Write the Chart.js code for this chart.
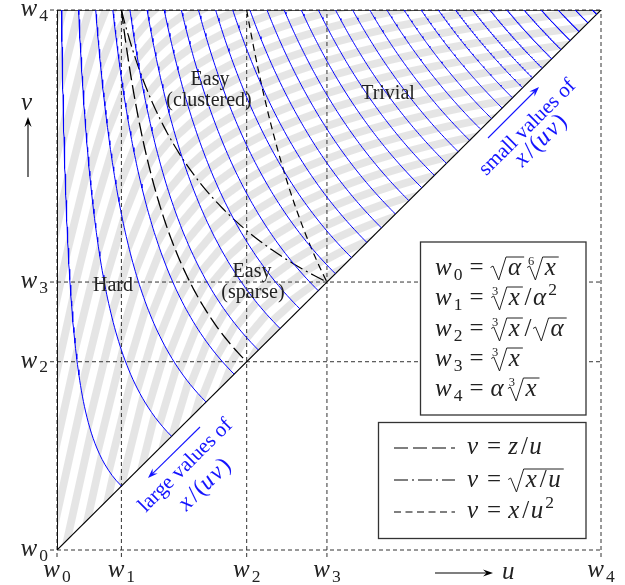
<!DOCTYPE html>
<html><head><meta charset="utf-8">
<script src="https://cdn.jsdelivr.net/npm/chart.js@4/dist/chart.umd.min.js"></script>
<style>html,body{margin:0;padding:0;background:#fff;}#wrap{width:625px;height:585px;position:relative;}</style>
</head><body><div id="wrap"><canvas id="c" width="625" height="585"></canvas></div>
<script>
// ---------- data ----------
const xTickNames = ['0','1','2','3','4'];            // subscripts of w on the u axis
const xTickValues = [0.015, 0.25, 0.7071, 1.0, 2.0]; // w0..w4
const yTickNames = ['0','2','3','4'];                // subscripts of w on the v axis
const yTickValues = [0.015, 0.7071, 1.0, 2.0];
const xParam = 1.0;        // x
const zParam = 0.5;        // z
const levelValues = [0.0625,0.1875,0.3125,0.4375,0.5625,0.6875,0.8125,0.9375,
  1.0625,1.1875,1.3125,1.4375,1.5625,1.6875,1.8125,1.9375,
  2.0625,2.1875,2.3125,2.4375,2.5625,2.6875,2.8125,2.9375,
  3.0625,3.1875,3.3125,3.4375,3.5625,3.6875,3.8125,3.9375]; // levels of u*v (blue curves)
const regionLabels = [['Easy',210,85],['(clustered)',209,106],['Trivial',388,99],['Hard',113,291],['Easy',252,277],['(sparse)',253,298]];

const W0 = xTickValues[0], W4 = xTickValues[4];

// ---------- curves ----------
function curveByV(fu, vStart, vEnd, n){ const pts=[]; for(let i=0;i<=n;i++){ const v=vStart+(vEnd-vStart)*i/n; pts.push({x:fu(v), y:v}); } return pts; }
const datasets = [];
levelValues.forEach(c=>{
  datasets.push({data:curveByV(v=>c/v, W4, Math.sqrt(c), 90), borderColor:'rgb(0,0,255)', borderWidth:1});
});
datasets.push({data:curveByV(v=>zParam/v, W4, Math.sqrt(zParam), 120), borderColor:'#000', borderWidth:1.3, borderDash:[14,5]});
datasets.push({data:curveByV(v=>xParam/(v*v), W4, Math.cbrt(xParam), 120), borderColor:'#000', borderWidth:1.2, borderDash:[14,4,2,4]});
datasets.push({data:curveByV(v=>Math.sqrt(xParam/v), W4, Math.cbrt(xParam), 120), borderColor:'#000', borderWidth:1.2, borderDash:[7,4.5]});
datasets.push({data:[{x:W0,y:W0},{x:W4,y:W4}], borderColor:'#000', borderWidth:1.2});
datasets.push({data:[{x:W0,y:W0},{x:W0,y:W4}], borderColor:'#111', borderWidth:2});
datasets.push({data:[{x:W0,y:W4},{x:W4,y:W4}], borderColor:'#111', borderWidth:1.6});
datasets.forEach(d=>{d.showLine=true; d.pointRadius=0; d.fill=false; d.tension=0;});

// ---------- helpers ----------
const SERIF = '"Liberation Serif","Times New Roman",serif';
function fnt(s,it){ return (it?'italic ':'')+s+'px '+SERIF; }
function mathRun(ctx, toks, s, x, y, draw){
  let cx=x;
  for(const t of toks){
    if(t.sqrt){
      let pre=0, iw=0;
      if(t.idx){ ctx.font=fnt(s*0.5,false); iw=ctx.measureText(t.idx).width; pre=Math.max(0, iw-0.22*s); }
      const cw=mathRun(ctx,t.sqrt,s,0,0,false);
      const rx=cx+pre;
      if(draw){
        if(t.idx){ ctx.font=fnt(s*0.5,false); ctx.fillText(t.idx, rx+0.28*s-iw, y-0.4*s); }
        ctx.beginPath(); ctx.moveTo(rx,y-0.3*s); ctx.lineTo(rx+0.1*s,y-0.36*s); ctx.lineTo(rx+0.33*s,y+0.2*s);
        ctx.lineTo(rx+0.62*s,y-0.72*s); ctx.lineTo(rx+0.7*s+cw+0.04*s,y-0.72*s); ctx.stroke();
        mathRun(ctx,t.sqrt,s,rx+0.7*s,y,true);
      }
      cx=rx+0.7*s+cw+0.07*s;
    } else {
      let size=s, dy=0;
      if(t.sub){size=s*0.7; dy=0.18*s;}
      if(t.sup){size=s*0.7; dy=-0.42*s;}
      const pad=t.op?0.28*s:0;
      ctx.font=fnt(size,!!t.it);
      const w=ctx.measureText(t.t).width;
      if(draw) ctx.fillText(t.t, cx+pad+(t.pre||0)*s, y+dy);
      cx+=w+2*pad+(t.sp||0)*s+(t.pre||0)*s+(t.it&&!t.sub&&!t.sup?0.08*s:0);
    }
  }
  return cx-x;
}
function drawMath(ctx,toks,s,x,y,align,color){
  ctx.save(); ctx.fillStyle=color; ctx.strokeStyle=color; ctx.lineWidth=1; ctx.textAlign='left'; ctx.textBaseline='alphabetic';
  const w=mathRun(ctx,toks,s,0,0,false);
  let sx=x; if(align==='center') sx=x-w/2; else if(align==='right') sx=x-w;
  mathRun(ctx,toks,s,sx,y,true); ctx.restore();
}
function arrowHead(ctx,x,y,ang,len,wid){
  const c=Math.cos(ang), s=Math.sin(ang);
  ctx.beginPath(); ctx.moveTo(x,y);
  ctx.lineTo(x-len*c+wid*s, y-len*s-wid*c);
  ctx.lineTo(x-0.65*len*c, y-0.65*len*s);
  ctx.lineTo(x-len*c-wid*s, y-len*s+wid*c);
  ctx.closePath(); ctx.fill();
}
function arrow(ctx,x1,y1,x2,y2,color,lw){
  ctx.save(); ctx.strokeStyle=color; ctx.fillStyle=color; ctx.lineWidth=lw;
  const a=Math.atan2(y2-y1,x2-x1);
  ctx.beginPath(); ctx.moveTo(x1,y1); ctx.lineTo(x2-6*Math.cos(a),y2-6*Math.sin(a)); ctx.stroke();
  arrowHead(ctx,x2,y2,a,10,3.6); ctx.restore();
}
// hatch angle (degrees) of the grey pattern as a function of u*v
const angTable=[[0,78],[0.2,75],[0.35,70],[0.5,60],[0.65,48],[0.8,39],[1.0,31],[1.3,23],[1.8,16],[2.5,11],[4.0,6]];
function stripeAngle(c){
  if(c<=angTable[0][0]) return angTable[0][1];
  for(let i=1;i<angTable.length;i++){ if(c<=angTable[i][0]){ const a=angTable[i-1], b=angTable[i]; return a[1]+(b[1]-a[1])*(c-a[0])/(b[0]-a[0]); } }
  return angTable[angTable.length-1][1];
}

// ---------- plugin ----------
const deco = {
  id:'deco',
  beforeDatasetsDraw(chart){
    const ctx=chart.ctx, xs=chart.scales.x, ys=chart.scales.y;
    const X0=xs.getPixelForValue(W0), X4=xs.getPixelForValue(W4), Y0=ys.getPixelForValue(W0), Y4=ys.getPixelForValue(W4);
    const P=15.5, nS=levelValues.length+1;
    const nx=[], ny=[], b=[];
    for(let k=0;k<nS;k++){
      const lo = k===0 ? 0 : levelValues[k-1];
      const hi = k===levelValues.length ? W4*W4 : levelValues[k];
      const th=stripeAngle((lo+hi)/2)*Math.PI/180;
      nx.push(Math.sin(th)); ny.push(Math.cos(th));
      if(k===0) b.push(0);
      else {
        const c=levelValues[k-1], vm=(Math.sqrt(c)+W4)/2, um=c/vm;
        const mx=xs.getPixelForValue(um), my=ys.getPixelForValue(vm);
        b.push(b[k-1] + ((nx[k-1]-nx[k])*mx + (ny[k-1]-ny[k])*my)/P);
      }
    }
    const w=Math.ceil(X4-X0)+2, h=Math.ceil(Y0-Y4)+2;
    const off=document.createElement('canvas'); off.width=w; off.height=h;
    const octx=off.getContext('2d'); const img=octx.createImageData(w,h); const d=img.data;
    for(let j=0;j<h;j++){
      const py=Y4+j+0.5, v=ys.getValueForPixel(py);
      for(let i=0;i<w;i++){
        const px=X0+i+0.5, u=xs.getValueForPixel(px);
        if(u<W0-0.004 || v>W4+0.004 || v<u-0.004) continue;
        const c=u*v; let k=0; while(k<levelValues.length && c>=levelValues[k]) k++;
        const ph=(nx[k]*px+ny[k]*py)/P + b[k];
        let t=ph-0.25; t=t-Math.floor(t)-0.5;
        const cov=Math.max(0,Math.min(1,P/4-Math.abs(t)*P+0.5));
        if(cov<=0) continue;
        const idx=(j*w+i)*4; d[idx]=229; d[idx+1]=229; d[idx+2]=229; d[idx+3]=Math.round(cov*255);
      }
    }
    octx.putImageData(img,0,0);
    ctx.drawImage(off,X0,Y4);
    ctx.save(); ctx.setLineDash([4,3]); ctx.strokeStyle='#333'; ctx.lineWidth=1;
    const left=X0-7, bottom=Y0+7;
    yTickValues.forEach(v=>{ const y=ys.getPixelForValue(v); ctx.beginPath(); ctx.moveTo(left,y); ctx.lineTo(X4,y); ctx.stroke(); });
    xTickValues.forEach(u=>{ const x=xs.getPixelForValue(u); ctx.beginPath(); ctx.moveTo(x,bottom); ctx.lineTo(x,Y4); ctx.stroke(); });
    ctx.restore();
  },
  afterDatasetsDraw(chart){
    const ctx=chart.ctx, xs=chart.scales.x, ys=chart.scales.y;
    const X0=xs.getPixelForValue(W0), X4=xs.getPixelForValue(W4), Y0=ys.getPixelForValue(W0), Y4=ys.getPixelForValue(W4);
    const phiD=Math.atan2(Y0-Y4,X4-X0);
    const MS=25, TS=20;
    ctx.save(); ctx.fillStyle='#222'; ctx.font=fnt(TS,false); ctx.textAlign='center'; ctx.textBaseline='alphabetic';
    regionLabels.forEach(([t,x,y])=>ctx.fillText(t,x,y));
    ctx.restore();
    yTickValues.forEach((v,i)=>drawMath(ctx,[{t:'w',it:1},{t:yTickNames[i],sub:1}],MS,X0-9,ys.getPixelForValue(v)+6,'right','#222'));
    xTickValues.forEach((u,i)=>drawMath(ctx,[{t:'w',it:1},{t:xTickNames[i],sub:1}],MS,xs.getPixelForValue(u),Y0+27,'center','#222'));
    arrow(ctx,435,573,493,573,'#000',1.1);
    drawMath(ctx,[{t:'u',it:1}],MS,502,579,'left','#222');
    arrow(ctx,28,177,28,117,'#000',1.1);
    drawMath(ctx,[{t:'v',it:1}],MS,27.5,110,'center','#222');
    const blue='rgb(20,20,255)';
    arrow(ctx,488,138,539,87,blue,1.1);
    arrow(ctx,200,427,148,478,blue,1.1);
    const SL={t:'/',sp:0.06,pre:0.04};
    const xuv=[{t:'x',it:1},SL,{t:'('},{t:'u',it:1},{t:'v',it:1},{t:')'}];
    const rotText=(cx,cy,fn)=>{ ctx.save(); ctx.translate(cx,cy); ctx.rotate(-phiD); fn(); ctx.restore(); };
    rotText(527,127,()=>{ ctx.fillStyle=blue; ctx.font=fnt(21,false); ctx.textAlign='center'; ctx.fillText('small values of',0,0.3*21); });
    rotText(541,141,()=>drawMath(ctx,xuv,24,0,0.25*24,'center',blue));
    rotText(185,465,()=>{ ctx.fillStyle=blue; ctx.font=fnt(21,false); ctx.textAlign='center'; ctx.fillText('large values of',0,0.3*21); });
    rotText(205,485,()=>drawMath(ctx,xuv,24,0,0.25*24,'center',blue));
    ctx.save(); ctx.fillStyle='#fff'; ctx.strokeStyle='#333'; ctx.lineWidth=1.3;
    ctx.fillRect(420.5,242,165.5,173); ctx.strokeRect(420.5,242,165.5,173);
    ctx.fillRect(378.5,422.5,207.5,116); ctx.strokeRect(378.5,422.5,207.5,116);
    ctx.restore();
    const W_=(n)=>[{t:'w',it:1},{t:n,sub:1},{t:'=',op:1}];
    const X_={t:'x',it:1}, A_={t:'α',it:1};
    const box1=[
      W_('0').concat([{sqrt:[A_]},{t:'',sp:0.06},{sqrt:[X_],idx:'6'}]),
      W_('1').concat([{sqrt:[X_],idx:'3'},SL,A_,{t:'2',sup:1}]),
      W_('2').concat([{sqrt:[X_],idx:'3'},SL,{sqrt:[A_]}]),
      W_('3').concat([{sqrt:[X_],idx:'3'}]),
      W_('4').concat([A_,{t:'',sp:0.06},{sqrt:[X_],idx:'3'}])
    ];
    const b1y=[275,305,336,366,396];
    box1.forEach((toks,i)=>drawMath(ctx,toks,MS,435,b1y[i],'left','#222'));
    const V_=[{t:'v',it:1},{t:'=',op:1}];
    const box2=[
      V_.concat([{t:'z',it:1},SL,{t:'u',it:1}]),
      V_.concat([{sqrt:[X_,SL,{t:'u',it:1}]}]),
      V_.concat([X_,SL,{t:'u',it:1},{t:'2',sup:1}])
    ];
    const b2y=[454,487,518], dashes=[[14,5],[14,4,2,4],[7,4.5]];
    box2.forEach((toks,i)=>{
      ctx.save(); ctx.strokeStyle='#000'; ctx.lineWidth=1.2; ctx.setLineDash(dashes[i]);
      ctx.beginPath(); ctx.moveTo(394,[448,480,512][i]); ctx.lineTo(455,[448,480,512][i]); ctx.stroke(); ctx.restore();
      drawMath(ctx,toks,MS,467,b2y[i],'left','#222');
    });
  }
};

new Chart(document.getElementById('c'),{
  type:'scatter',
  data:{datasets},
  options:{
    responsive:false, animation:false,
    layout:{padding:{left:57,right:24,top:10,bottom:35}},
    scales:{ x:{type:'linear',min:W0,max:W4,display:false}, y:{type:'linear',min:W0,max:W4,display:false} },
    plugins:{legend:{display:false},tooltip:{enabled:false}},
    elements:{point:{radius:0},line:{tension:0,borderCapStyle:'butt'}}
  },
  plugins:[deco]
});
</script></body></html>
